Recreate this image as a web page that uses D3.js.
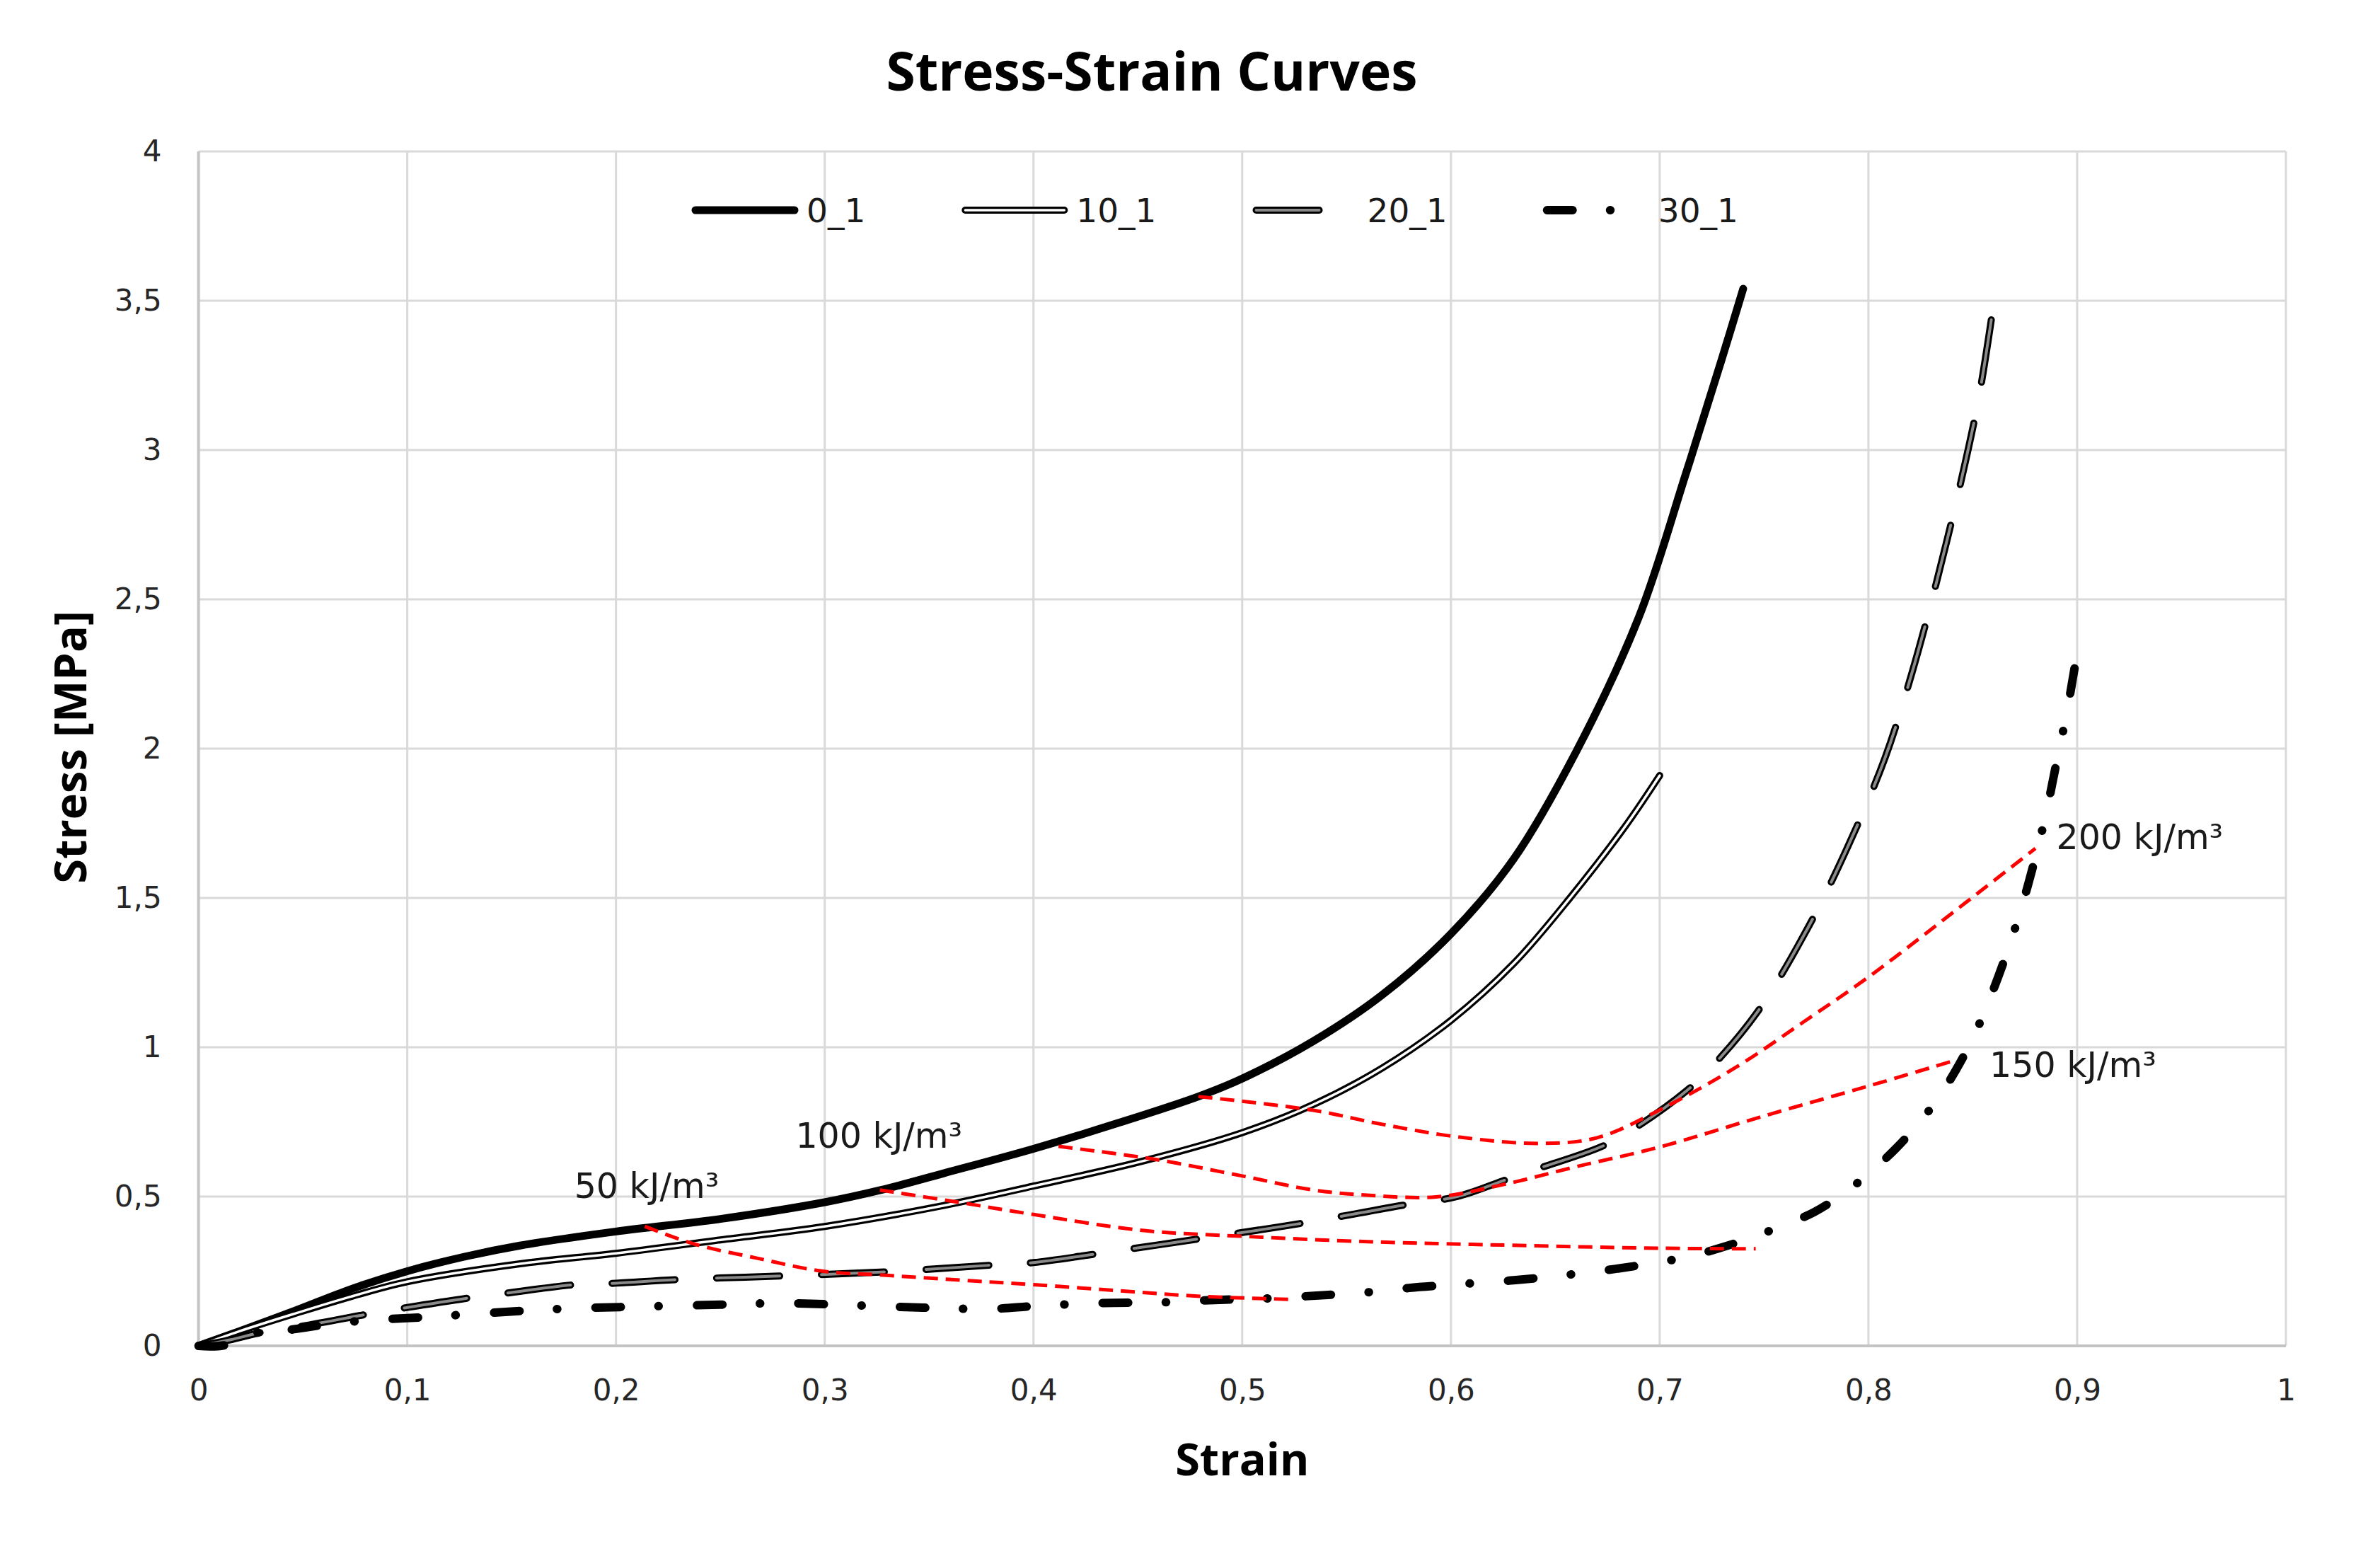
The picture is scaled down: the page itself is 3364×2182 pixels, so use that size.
<!DOCTYPE html>
<html><head><meta charset="utf-8">
<script src="https://cdn.jsdelivr.net/npm/d3@7"></script>
<style>body{margin:0;background:#fff} svg{display:block}</style>
</head><body>
<svg id="chart" width="3364" height="2182"></svg>
<script>
// ---------- data ----------
const xTicks = [0, 0.1, 0.2, 0.3, 0.4, 0.5, 0.6, 0.7, 0.8, 0.9, 1];
const yTicks = [0, 0.5, 1, 1.5, 2, 2.5, 3, 3.5, 4];
const seriesNames = ["0_1", "10_1", "20_1", "30_1"];

const strain01 = [0, 0.02, 0.047, 0.073, 0.10, 0.127, 0.154, 0.20, 0.25, 0.30, 0.327, 0.357, 0.40, 0.44, 0.479, 0.50, 0.534, 0.567, 0.60, 0.63, 0.66, 0.69, 0.7125, 0.73, 0.74];
const stress01 = [0, 0.05, 0.12, 0.19, 0.25, 0.298, 0.336, 0.383, 0.425, 0.481, 0.522, 0.578, 0.66, 0.745, 0.835, 0.895, 1.02, 1.175, 1.38, 1.63, 1.99, 2.44, 2.92, 3.31, 3.54];

const strain10 = [0, 0.02, 0.047, 0.073, 0.10, 0.154, 0.20, 0.25, 0.30, 0.357, 0.40, 0.453, 0.50, 0.534, 0.567, 0.60, 0.63, 0.657, 0.6835, 0.70];
const stress10 = [0, 0.05, 0.11, 0.165, 0.215, 0.275, 0.31, 0.355, 0.40, 0.47, 0.535, 0.62, 0.714, 0.808, 0.93, 1.09, 1.28, 1.50, 1.74, 1.91];

const strain20 = [0, 0.015, 0.03, 0.048, 0.08, 0.096, 0.13, 0.146, 0.179, 0.20, 0.229, 0.279, 0.329, 0.379, 0.40, 0.429, 0.479, 0.528, 0.577, 0.603, 0.625, 0.641, 0.672, 0.6876, 0.713, 0.7245, 0.747, 0.771, 0.79, 0.808, 0.8207, 0.8327, 0.8445, 0.853, 0.86];
const stress20 = [0, 0.02, 0.045, 0.064, 0.105, 0.124, 0.161, 0.175, 0.204, 0.21, 0.222, 0.234, 0.248, 0.27, 0.279, 0.307, 0.358, 0.41, 0.471, 0.50, 0.553, 0.592, 0.667, 0.727, 0.855, 0.931, 1.12, 1.40, 1.67, 1.97, 2.25, 2.56, 2.90, 3.18, 3.49];

const strain30 = [0, 0.013, 0.027, 0.031, 0.04, 0.05, 0.063, 0.08, 0.1056, 0.155, 0.18, 0.202, 0.25, 0.28, 0.314, 0.347, 0.38, 0.40, 0.43, 0.463, 0.48, 0.512, 0.53, 0.563, 0.58, 0.603, 0.632, 0.6635, 0.679, 0.712, 0.7285, 0.745, 0.759, 0.774, 0.788, 0.80, 0.813, 0.824, 0.8335, 0.842, 0.85, 0.858, 0.866, 0.873, 0.879, 0.885, 0.89, 0.895, 0.899];
const stress30 = [0, 0.003, 0.05, 0.025, 0.048, 0.06, 0.073, 0.085, 0.095, 0.117, 0.126, 0.13, 0.138, 0.143, 0.136, 0.128, 0.124, 0.133, 0.143, 0.146, 0.152, 0.159, 0.166, 0.181, 0.194, 0.206, 0.221, 0.244, 0.258, 0.296, 0.327, 0.365, 0.403, 0.448, 0.51, 0.576, 0.66, 0.745, 0.83, 0.925, 1.03, 1.16, 1.31, 1.46, 1.61, 1.78, 1.95, 2.12, 2.28];

// iso-energy (red dashed) lines
const strainE50 = [0.2138, 0.238, 0.268, 0.298, 0.328, 0.37, 0.40, 0.44, 0.48, 0.522];
const stressE50 = [0.40, 0.34, 0.293, 0.251, 0.237, 0.218, 0.205, 0.185, 0.166, 0.156];
const strainE100 = [0.3264, 0.364, 0.40, 0.453, 0.50, 0.56, 0.61, 0.70, 0.746];
const stressE100 = [0.522, 0.481, 0.44, 0.386, 0.367, 0.349, 0.340, 0.327, 0.325];
const strainE150 = [0.412, 0.457, 0.50, 0.534, 0.561, 0.593, 0.625, 0.66, 0.70, 0.75, 0.80, 0.841];
const stressE150 = [0.668, 0.626, 0.569, 0.522, 0.504, 0.499, 0.54, 0.60, 0.666, 0.77, 0.87, 0.955];
const strainE200 = [0.479, 0.534, 0.567, 0.603, 0.643, 0.67, 0.70, 0.737, 0.77, 0.80, 0.831, 0.855, 0.88];
const stressE200 = [0.835, 0.789, 0.742, 0.70, 0.678, 0.697, 0.79, 0.935, 1.09, 1.235, 1.40, 1.53, 1.666];

const energyLabels = ["50 kJ/m³", "100 kJ/m³", "150 kJ/m³", "200 kJ/m³"];
const energyLabelStrain = [0.18, 0.286, 0.858, 0.89];
const energyLabelStress = [0.495, 0.664, 0.90, 1.663];

// ---------- chart ----------
const svg = d3.select("#chart");
const x = d3.scaleLinear().domain([0, 1]).range([280.6, 3231]);
const y = d3.scaleLinear().domain([0, 4]).range([1902, 214]);
const loc = d3.formatLocale({decimal: ",", thousands: ".", grouping: [3], currency: ["", ""]});
const fmt = v => loc.format("~g")(v);

svg.append("rect").attr("width", 3364).attr("height", 2182).attr("fill", "#fff");

// gridlines
const grid = svg.append("g");
grid.selectAll("line.v").data(xTicks).join("line")
  .attr("x1", d => x(d)).attr("x2", d => x(d)).attr("y1", y(0)).attr("y2", y(4))
  .attr("stroke", "#d9d9d9").attr("stroke-width", 3);
grid.selectAll("line.h").data(yTicks).join("line")
  .attr("x1", x(0)).attr("x2", x(1)).attr("y1", d => y(d)).attr("y2", d => y(d))
  .attr("stroke", "#d9d9d9").attr("stroke-width", 3);
// axis lines
svg.append("line").attr("x1", x(0)).attr("x2", x(0)).attr("y1", y(0) + 2).attr("y2", y(4))
  .attr("stroke", "#c4c4c4").attr("stroke-width", 4);
svg.append("line").attr("x1", x(0) - 2).attr("x2", x(1)).attr("y1", y(0)).attr("y2", y(0))
  .attr("stroke", "#c4c4c4").attr("stroke-width", 4);

// axes
const xAxis = svg.append("g").attr("transform", `translate(0,${y(0)})`)
  .call(d3.axisBottom(x).tickValues(xTicks).tickSize(0).tickPadding(47).tickFormat(fmt));
const yAxis = svg.append("g").attr("transform", `translate(${x(0)},0)`)
  .call(d3.axisLeft(y).tickValues(yTicks).tickSize(0).tickPadding(52).tickFormat(fmt));
[xAxis, yAxis].forEach(g => {
  g.select(".domain").remove();
  g.selectAll("text").attr("font-family", "DejaVu Sans").attr("font-size", 42).attr("fill", "#262626");
});

// titles
svg.append("text").attr("x", 1628).attr("y", 128).attr("text-anchor", "middle")
  .attr("font-family", "Open Sans").attr("font-weight", 700).attr("font-size", 75).attr("fill", "#000")
  .text("Stress-Strain Curves");
svg.append("text").attr("x", (x(0) + x(1)) / 2).attr("y", 2085).attr("text-anchor", "middle")
  .attr("font-family", "Open Sans").attr("font-weight", 700).attr("font-size", 63).attr("fill", "#000")
  .text("Strain");
svg.append("text").attr("transform", "translate(122,1056) rotate(-90)").attr("text-anchor", "middle")
  .attr("font-family", "Open Sans").attr("font-weight", 700).attr("font-size", 63).attr("fill", "#000")
  .text("Stress [MPa]");

// line styles
const styles = {
  "0_1": [{stroke: "#000", w: 11, dash: null}],
  "10_1": [{stroke: "#000", w: 10, dash: null}, {stroke: "#fff", w: 3.5, dash: null}],
  "20_1": [{stroke: "#000", w: 10, dash: "89,59"}, {stroke: "#8a8a8a", w: 4, dash: "89,59"}],
  "30_1": [{stroke: "#000", w: 12, dash: "36,53,0.5,54"}]
};
const seriesData = {
  "0_1": strain01.map((s, i) => [s, stress01[i]]),
  "10_1": strain10.map((s, i) => [s, stress10[i]]),
  "20_1": strain20.map((s, i) => [s, stress20[i]]),
  "30_1": strain30.map((s, i) => [s, stress30[i]])
};
const line = d3.line().x(d => x(d[0])).y(d => y(d[1])).curve(d3.curveCatmullRom.alpha(0.5));

const curves = svg.append("g").attr("fill", "none");
seriesNames.forEach(name => {
  styles[name].forEach(st => {
    curves.append("path").datum(seriesData[name]).attr("d", line)
      .attr("stroke", st.stroke).attr("stroke-width", st.w)
      .attr("stroke-dasharray", st.dash).attr("stroke-linecap", "round").attr("stroke-linejoin", "round");
  });
});

// red iso-energy lines
const energySets = [
  strainE50.map((s, i) => [s, stressE50[i]]),
  strainE100.map((s, i) => [s, stressE100[i]]),
  strainE150.map((s, i) => [s, stressE150[i]]),
  strainE200.map((s, i) => [s, stressE200[i]])
];
svg.append("g").attr("fill", "none").selectAll("path").data(energySets).join("path")
  .attr("d", line).attr("stroke", "#ff0000").attr("stroke-width", 5).attr("stroke-dasharray", "20,11");

svg.append("g").selectAll("text").data(energyLabels).join("text")
  .attr("x", (d, i) => x(energyLabelStrain[i])).attr("y", (d, i) => y(energyLabelStress[i]))
  .attr("font-family", "DejaVu Sans").attr("font-size", 49).attr("fill", "#1a1a1a")
  .text(d => d);

// legend
const legend = svg.append("g");
let lx = 978;
const ly = 297;
seriesNames.forEach(name => {
  styles[name].forEach(st => {
    legend.append("line").attr("x1", lx + 5).attr("x2", lx + 145).attr("y1", ly).attr("y2", ly)
      .attr("stroke", st.stroke).attr("stroke-width", st.w)
      .attr("stroke-dasharray", st.dash).attr("stroke-linecap", "round");
  });
  const t = legend.append("text").attr("x", lx + 162).attr("y", ly).attr("dy", "0.36em")
    .attr("font-family", "DejaVu Sans").attr("font-size", 47).attr("fill", "#1a1a1a").text(name);
  lx += 162 + t.node().getComputedTextLength() + 136;
});
</script>
</body></html>
